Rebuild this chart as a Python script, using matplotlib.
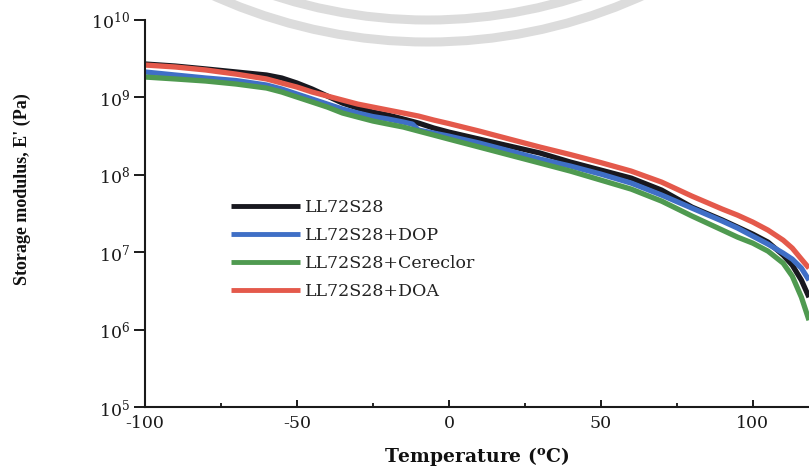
import matplotlib
matplotlib.use("Agg")
import matplotlib.pyplot as plt
from matplotlib.ticker import MultipleLocator, NullLocator
from matplotlib.patches import Circle

plt.rcParams["font.family"] = "serif"
plt.rcParams["font.serif"] = ["DejaVu Serif"]
plt.rcParams["mathtext.fontset"] = "dejavuserif"

# Temperature sweep (deg C)
temp = [-100, -90, -80, -70, -60, -55, -50, -45, -40, -35, -30, -25, -20, -15,
        -10, -5, 0, 10, 20, 30, 40, 50, 60, 70, 80, 90, 95, 100, 105, 110,
        113, 116, 118.5]
temp_dop = [-100, -90, -80, -70, -60, -55, -50, -45, -40, -35, -30, -25, -20,
            -15, -12, -10, -5, 0, 10, 20, 30, 40, 50, 60, 70, 80, 90, 95, 100,
            105, 110, 113, 116, 118.5]

# Storage modulus E' (Pa)
e_neat = [2.70e9, 2.54e9, 2.33e9, 2.13e9, 1.945e9, 1.78e9, 1.533e9, 1.282e9,
          1.041e9, 8.45e8, 7.28e8, 6.46e8, 5.91e8, 5.25e8, 4.66e8, 4.02e8,
          3.56e8, 2.89e8, 2.35e8, 1.91e8, 1.46e8, 1.15e8, 9.06e7, 6.34e7,
          3.82e7, 2.60e7, 2.11e7, 1.71e7, 1.35e7, 9.16e6, 6.80e6, 4.35e6,
          2.62e6]
e_dop = [2.13e9, 1.945e9, 1.78e9, 1.65e9, 1.444e9, 1.282e9, 1.105e9, 9.52e8,
         8.20e8, 7.07e8, 6.28e8, 5.65e8, 5.25e8, 4.80e8, 4.52e8, 3.78e8,
         3.46e8, 3.16e8, 2.57e8, 2.03e8, 1.596e8, 1.296e8, 1.021e8, 7.81e7,
         5.47e7, 3.71e7, 2.52e7, 2.05e7, 1.613e7, 1.271e7, 9.72e6, 8.13e6,
         6.22e6, 4.35e6]
e_cereclor = [1.833e9, 1.73e9, 1.627e9, 1.488e9, 1.321e9, 1.173e9, 1.010e9,
              8.71e8, 7.50e8, 6.28e8, 5.57e8, 4.95e8, 4.52e8, 4.14e8, 3.67e8,
              3.26e8, 2.89e8, 2.28e8, 1.797e8, 1.417e8, 1.116e8, 8.54e7,
              6.53e7, 4.57e7, 2.93e7, 1.93e7, 1.565e7, 1.309e7, 1.032e7,
              7.22e6, 4.90e6, 2.62e6, 1.323e6]
e_doa = [2.62e9, 2.47e9, 2.26e9, 2.00e9, 1.73e9, 1.533e9, 1.36e9, 1.173e9,
         1.041e9, 9.24e8, 8.20e8, 7.50e8, 6.86e8, 6.28e8, 5.74e8, 5.10e8,
         4.59e8, 3.67e8, 2.89e8, 2.28e8, 1.825e8, 1.438e8, 1.116e8, 8.05e7,
         5.30e7, 3.60e7, 3.01e7, 2.45e7, 1.93e7, 1.43e7, 1.128e7, 8.13e6,
         6.22e6]

labels = ["LL72S28", "LL72S28+DOP", "LL72S28+Cereclor", "LL72S28+DOA"]
colors = ["#18181f", "#3f6fc6", "#4f9a50", "#e4594b"]

x_ticks = [-100, -50, 0, 50, 100]
y_ticks = [1e5, 1e6, 1e7, 1e8, 1e9, 1e10]

W, H = 809, 474
fig = plt.figure(figsize=(W / 100, H / 100), dpi=100)
ax = fig.add_axes([145 / W, 1 - 407 / H, 1 - 145 / W, (407 - 20) / H])

series = [(temp, e_neat), (temp_dop, e_dop), (temp, e_cereclor), (temp, e_doa)]
for (t, e), lab, col in zip(series, labels, colors):
    ax.plot(t, e, color=col, lw=3.8, label=lab, solid_capstyle="butt")

ax.set_yscale("log")
ax.set_ylim(1e5, 1e10)
ax.set_xlim(-100, 118.5)
ax.set_yticks(y_ticks)
ax.yaxis.set_minor_locator(NullLocator())
ax.set_xticks(x_ticks)
ax.set_xticklabels([str(v) for v in x_ticks])
ax.xaxis.set_minor_locator(MultipleLocator(25))

for s in ("top", "right"):
    ax.spines[s].set_visible(False)
for s in ("left", "bottom"):
    ax.spines[s].set_linewidth(1.5)
    ax.spines[s].set_color("#1a1a1a")

ax.tick_params(axis="x", which="major", direction="in", length=5, width=1.4,
               pad=6, labelsize=12.5, colors="#1a1a1a")
ax.tick_params(axis="x", which="minor", direction="in", length=3, width=1.2)
ax.tick_params(axis="y", which="major", direction="out", length=8, width=1.4,
               pad=3, labelsize=12.5, colors="#1a1a1a")

ax.set_xlabel(r"Temperature ($^{\mathbf{o}}$C)", fontsize=13.5,
              fontweight="bold", labelpad=9, color="#111111")
fig.text(22 / W, 1 - 189 / H, "Storage modulus, E' (Pa)", rotation=90,
         ha="center", va="center", fontsize=13, fontweight="bold",
         family="Liberation Serif", color="#111111")

leg = ax.legend(loc="upper left", bbox_to_anchor=(0.116, 0.559),
                frameon=False, fontsize=12.5, handlelength=4.0,
                handletextpad=0.3, labelspacing=0.62, borderpad=0)
for h in leg.get_lines():
    h.set_linewidth(3.5)
for t in leg.get_texts():
    t.set_color("#222222")

# faint ring emblem across the top edge
ov = fig.add_axes([0, 0, 1, 1], zorder=5)
ov.set_xlim(0, W)
ov.set_ylim(H, 0)
ov.axis("off")
ov.patch.set_alpha(0)
for r in (521, 499):
    ov.add_patch(Circle((428, -479), r, fill=False, lw=6.5,
                        edgecolor="#dcdcdc"))

fig.savefig("out.png", dpi=100)
